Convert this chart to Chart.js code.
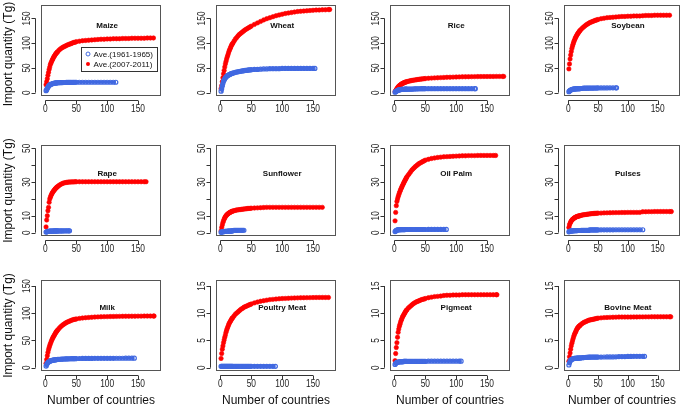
<!DOCTYPE html>
<html><head><meta charset="utf-8">
<script src="https://cdn.jsdelivr.net/npm/chart.js@4/dist/chart.umd.min.js"></script>
<style>
html,body{margin:0;padding:0;background:#fff;}
#wrap{position:relative;width:685px;height:410px;overflow:hidden;background:#fff;}
#wrap canvas{position:absolute;left:0;top:0;}
</style></head><body><div id="wrap"></div>
<script>
// ---------- DATA ----------
// Country counts at which values are listed (1..20, then every 2 to 50, then every 5)
const countryGrid = [1,2,3,4,5,6,7,8,9,10,11,12,13,14,15,16,17,18,19,20,
  22,24,26,28,30,32,34,36,38,40,42,44,46,48,50,
  55,60,65,70,75,80,85,90,95,100,105,110,115,120,125,130,135,140,145,150,155,160,165,170,175];

const panelNames = ['Maize','Wheat','Rice','Soybean','Rape','Sunflower','Oil Palm','Pulses','Milk','Poultry Meat','Pigmeat','Bovine Meat'];
const seriesLabels = ['Ave.(1961-1965)','Ave.(2007-2011)'];
const xAxisTitle = 'Number of countries';
const yAxisTitle = 'Import quantity (Tg)';

const xTicks = [0,50,100,150];
const yTicksRow1 = [0,50,100,150];
const yTicksRow2 = [0,10,20,30,40,50];
const yLabelsRow2 = ['0','10','','30','','50'];
const yTicksRow3 = [0,5,10,15];
const yTicksMilk = [0,50,100,150];

// last country count of each series
const earlyCounts  = [114,153,131, 81, 39, 38, 84,125,144, 89,108,128];
const recentCounts = [175,177,177,170,163,165,164,173,176,175,166,172];

// cumulative import quantity (Tg), 1961-1965 average
const maizeEarly = [4,6,9,11,13,14.5,15.5,16.5,17,17.5,18,18.5,18.8,19,19.3,19.5,19.7,19.8,19.9,20,
  20.1,20.2,20.3,20.4,20.5,20.5,20.6,20.7,20.7,20.8,20.8,20.9,20.9,21,21,
  21,21,21,21,21,21,21,21,21,21,21,21, 21];
const wheatEarly = [3,8,14,19,23,26,28,30,31.5,33,34,35,35.5,36,37,37.5,38,38.5,39,39.5,
  40,41,41.5,42,42.5,43,43.5,44,44.5,45,45,45.5,46,46,46.5,
  47,47,47.5,48,48,48.5,48.5,48.5,48.5,49,49,49,49,49,49,49,49,49,49,49, 49];
const riceEarly = [1,2,3,3.8,4.4,5,5.4,5.7,6,6.2,6.4,6.5,6.6,6.7,6.8,6.8,6.9,6.9,7,7,
  7,7.1,7.1,7.2,7.3,7.6,7.7,7.8,7.8,7.9,7.9,8,8,8,8,
  8,8,8,8,8,8,8,8,8,8,8,8,8,8,8,8, 8];
const soybeanEarly = [2,3.5,4.5,5.2,5.8,6.3,6.7,7,7.2,7.4,7.5,7.7,7.8,7.9,8,8,8.1,8.1,8.2,8.2,
  8.4,8.8,9,9,9.1,9.1,9.2,9.2,9.3,9.3,9.3,9.4,9.4,9.4,9.5,
  9.5,9.6,9.6,9.7,9.7,9.8, 9.8];
const rapeEarly = [0.3,0.5,0.6,0.7,0.8,0.8,0.85,0.85,0.9,0.9,0.9,0.95,0.95,1,1,1,1,1,1,1,
  1,1,1,1,1.05,1.05,1.1,1.1,1.1, 1.1];
const sunflowerEarly = [0.2,0.4,0.5,0.55,0.6,0.65,0.7,0.7,0.75,0.8,0.8,0.85,0.85,0.9,0.9,0.9,0.95,1,1,1.2,
  1.3,1.3,1.35,1.35,1.4,1.4,1.4,1.4, 1.4];
const oilPalmEarly = [0.6,1,1.3,1.5,1.6,1.7,1.7,1.75,1.75,1.8,1.8,1.8,1.8,1.8,1.8,1.8,1.8,1.85,1.85,1.85,
  1.85,1.85,1.85,1.85,1.85,1.85,1.85,1.85,1.85,1.85,1.85,1.85,1.85,1.85,1.85,
  1.9,1.9,1.9,1.9,1.9,1.9, 1.9];
const pulsesEarly = [0.5,0.7,0.8,0.9,1,1.05,1.1,1.1,1.15,1.15,1.2,1.2,1.2,1.2,1.2,1.25,1.25,1.25,1.25,1.25,
  1.3,1.3,1.3,1.3,1.3,1.3,1.3,1.6,1.6,1.6,1.6,1.6,1.6,1.6,1.6,
  1.65,1.65,1.65,1.65,1.65,1.7,1.7,1.7,1.7,1.7,1.7,1.7,1.7,1.7, 1.7];
const milkEarly = [3,6,8,9.5,10.5,11.3,12,12.5,13,13.3,13.6,13.8,14,14.2,14.4,14.6,14.8,15,15.1,15.2,
  15.4,15.6,15.7,15.8,16,16.1,16.2,16.3,16.4,16.5,16.6,16.6,16.7,16.7,16.8,
  16.9,17,17,17,17.1,17.2,17.2,17.2,17.3,17.3,17.3,17.3,17.4,17.4,17.4,17.5,17.5,17.5, 17.5];
const poultryEarly = [0.25,0.25,0.25,0.25,0.25,0.25,0.25,0.25,0.25,0.25,0.25,0.25,0.25,0.25,0.25,0.25,0.25,0.25,0.25,0.25,
  0.25,0.25,0.25,0.25,0.25,0.25,0.25,0.25,0.25,0.25,0.25,0.25,0.25,0.25,0.25,
  0.25,0.25,0.25,0.25,0.25,0.25,0.25, 0.25];
const pigmeatEarly = [0.6,0.8,0.9,1,1,1.05,1.05,1.1,1.1,1.1,1.1,1.1,1.1,1.1,1.15,1.15,1.15,1.15,1.15,1.15,
  1.15,1.15,1.15,1.15,1.15,1.15,1.15,1.15,1.15,1.15,1.15,1.15,1.15,1.15,1.15,
  1.2,1.2,1.2,1.2,1.2,1.2,1.2,1.2,1.2,1.2,1.2, 1.2];
const bovineEarly = [0.5,0.9,1.2,1.4,1.5,1.55,1.6,1.65,1.68,1.7,1.72,1.73,1.74,1.75,1.75,1.76,1.77,1.78,1.79,1.8,
  1.82,1.84,1.86,1.88,1.9,1.92,1.93,1.94,1.95,1.95,1.95,1.95,1.95,1.95,1.95,
  1.96,1.97,1.98,1.98,1.99,2,2.05,2.05,2.05,2.08,2.08,2.1,2.1,2.1,2.1, 2.1];

// cumulative import quantity (Tg), 2007-2011 average
const maizeRecent = [16,22,28,35,41,47,52,57,60,63,66,68,71,73,75,77,79,80,82,83,
  86,88,90,91.5,93,94,95.5,96.5,97.5,98.5,99.5,100.5,101.5,102,103,
  104,105,105.5,106,106.5,107,107.5,108,108,108.5,108.5,109,109,109,109.5,109.5,109.5,110,110,110,110,110,110.5,110.5, 110.5];
const wheatRecent = [8,14,22,30,38,45,52,58,63,68,72,76,80,84,87,90,93,96,98,100,
  104,108,111,114,117,119,121,123,125,127,128.5,130,131.5,133,134.5,
  138,141,144,147,149.5,151.5,153.5,155.5,157,158.5,160,161,162,163,164,164.5,165,165.5,166,166.5,167,167,167.5,167.5,168, 168];
const riceRecent = [2,4,6,8,10,11.5,13,14,15,16,17,17.8,18.5,19.2,19.8,20.3,20.8,21.3,21.7,22.1,
  22.8,23.4,24,24.5,25,25.4,25.8,26.2,26.6,27,27.3,27.6,27.9,28.2,28.5,
  29,29.4,29.8,30.1,30.4,30.7,31,31.2,31.4,31.6,31.8,32,32.1,32.2,32.3,32.4,32.5,32.5,32.6,32.6,32.7,32.7,32.8,32.8,32.8, 32.8];
const soybeanRecent = [48,58,68,76,83,89,94,98,102,105,108,111,113,115.5,117.5,119.5,121,123,124.5,126,
  128.5,131,133,135,137,138.5,140,141.5,142.5,143.5,144.5,145.5,146.5,147,148,
  149.5,150.5,151.5,152,152.5,153,153.5,154,154,154.5,154.5,155,155,155,155.5,156,156,156,156.5,156.5,156.5,156.5,156.5, 156.5];
const rapeRecent = [3.4,7.5,10,13,15,18,20,21,22,22.8,23.5,24.1,24.6,25.1,25.6,26,26.4,26.8,27.1,27.4,
  28,28.5,28.9,29.2,29.5,29.7,29.8,29.9,30,30,30.1,30.1,30.1,30.2,30.2,
  30.2,30.2,30.2,30.2,30.2,30.2,30.2,30.2,30.2,30.2,30.2,30.2,30.2,30.2,30.2,30.2,30.2,30.2,30.2,30.2,30.2,30.2, 30.2];
const sunflowerRecent = [1,3,4.5,6,7,8,8.8,9.4,10,10.4,10.8,11.1,11.4,11.7,11.9,12.1,12.3,12.5,12.6,12.8,
  13,13.2,13.4,13.5,13.6,13.7,13.8,13.9,14,14.1,14.2,14.3,14.35,14.4,14.5,
  14.6,14.7,14.8,14.9,15,15,15,15,15,15,15,15,15,15,15,15,15,15,15,15,15,15, 15];
const oilPalmRecent = [7,12,16,18.5,20,21.3,22.5,23.5,24.5,25.5,26.3,27.1,27.9,28.7,29.5,30.2,30.9,31.6,32.3,33,
  34,35,36,37,37.8,38.5,39.2,39.8,40.4,41,41.4,41.8,42.2,42.6,43,
  43.5,44,44.3,44.6,44.8,45,45.1,45.2,45.3,45.4,45.5,45.6,45.6,45.7,45.7,45.7,45.8,45.8,45.8,45.8,45.8,45.8, 45.8];
const pulsesRecent = [3,4.5,5.5,6.3,6.9,7.4,7.8,8.1,8.4,8.7,8.9,9.1,9.3,9.5,9.6,9.7,9.8,9.9,10,10.1,
  10.3,10.5,10.6,10.7,10.8,10.9,11,11.1,11.2,11.3,11.35,11.4,11.45,11.5,11.55,
  11.6,11.7,11.75,11.8,11.85,11.9,11.9,11.95,11.95,12,12,12,12,12,12.4,12.4,12.45,12.45,12.5,12.5,12.5,12.5,12.5,12.5, 12.5];
const milkRecent = [8,15,22,28,33,37,41,44,47,50,52.5,55,57,59,61,63,65,66.5,68,69.5,
  72,74.5,76.5,78.5,80,81.5,83,84,85,86,87,87.8,88.5,89,89.5,
  90.5,91.2,91.8,92.2,92.6,93,93.3,93.5,93.7,93.8,94,94.1,94.2,94.3,94.4,94.5,94.5,94.6,94.6,94.7,94.7,94.8,94.8,94.8,94.8, 94.8];
const poultryRecent = [1.7,2.6,3.4,4,4.6,5.1,5.6,6,6.5,6.9,7.2,7.5,7.8,8.1,8.3,8.5,8.7,8.9,9.1,9.2,
  9.5,9.8,10,10.2,10.4,10.6,10.8,10.9,11.1,11.2,11.3,11.4,11.5,11.6,11.7,
  11.9,12.05,12.2,12.3,12.4,12.5,12.55,12.6,12.65,12.7,12.72,12.75,12.78,12.8,12.82,12.84,12.85,12.86,12.87,12.88,12.89,12.9,12.9,12.9, 12.9];
const pigmeatRecent = [1.3,2.6,3.7,4.6,5.6,6.5,7.1,7.6,8,8.4,8.7,9,9.3,9.5,9.7,9.9,10.1,10.3,10.5,10.6,
  10.9,11.1,11.3,11.5,11.7,11.85,12,12.1,12.2,12.3,12.4,12.5,12.55,12.6,12.7,
  12.85,12.95,13.05,13.1,13.15,13.25,13.3,13.3,13.35,13.35,13.35,13.4,13.4,13.4,13.4,13.4,13.4,13.4,13.4,13.4,13.4,13.4,13.4, 13.4];
const bovineRecent = [1.2,2,2.7,3.4,4,4.5,4.9,5.3,5.7,6,6.3,6.5,6.75,7,7.2,7.35,7.5,7.6,7.7,7.8,
  8,8.15,8.3,8.4,8.5,8.6,8.7,8.75,8.8,8.85,8.9,8.95,9,9.05,9.1,
  9.15,9.2,9.22,9.25,9.27,9.28,9.3,9.3,9.3,9.3,9.3,9.32,9.32,9.33,9.33,9.34,9.34,9.35,9.35,9.35,9.35,9.35,9.35,9.35, 9.35];

const earlySeries  = [maizeEarly,wheatEarly,riceEarly,soybeanEarly,rapeEarly,sunflowerEarly,oilPalmEarly,pulsesEarly,milkEarly,poultryEarly,pigmeatEarly,bovineEarly];
const recentSeries = [maizeRecent,wheatRecent,riceRecent,soybeanRecent,rapeRecent,sunflowerRecent,oilPalmRecent,pulsesRecent,milkRecent,poultryRecent,pigmeatRecent,bovineRecent];

// ---------- LAYOUT / STYLE ----------
const W = 685, H = 410;
const colLeft = [41, 216, 390, 564];
const boxW = 120;
const rowTop = [5, 145, 280];
const boxH = 91;
const xRange = [-7.2, 187.2];
const rowYRange = [[-6.8, 176.8], [-2, 52], [-0.6, 16.1]];
const milkYRange = [-6, 161];
const BLUE = '#4169e1', RED = '#ff0000';
const TICK_FONT = '10px "Liberation Sans", Arial, sans-serif';
const TICK_SQUEEZE = 0.84;
const TITLE_FONT = 'bold 8px "Liberation Sans", Arial, sans-serif';
const AXIS_FONT = '12px "Liberation Sans", Arial, sans-serif';
const LEGEND_FONT = '8px "Liberation Sans", Arial, sans-serif';

function toPoints(vals, n) {
  const pts = [];
  for (let i = 0; i < vals.length; i++) {
    const last = i === vals.length - 1;
    const x = last ? n : countryGrid[i];
    if (!last && x >= n) continue;
    pts.push({x: x, y: vals[i]});
  }
  return pts;
}

function squeezedText(ctx, text, x, y, rot) {
  ctx.save();
  ctx.translate(x, y);
  if (rot) ctx.rotate(rot);
  ctx.scale(TICK_SQUEEZE, 1);
  ctx.fillText(text, 0, 0);
  ctx.restore();
}

const framePlugin = {
  id: 'rframe',
  beforeDatasetsDraw(chart, args, opts) {
    const ctx = chart.ctx, a = chart.chartArea;
    const xs = chart.scales.x, ys = chart.scales.y;
    ctx.save();
    // box
    ctx.strokeStyle = '#555';
    ctx.lineWidth = 1;
    ctx.strokeRect(Math.round(a.left) + 0.5, Math.round(a.top) + 0.5, Math.round(a.right - a.left) - 1, Math.round(a.bottom - a.top) - 1);
    // x axis
    ctx.strokeStyle = '#333';
    const ay = Math.round(a.bottom + 4) + 0.5;
    ctx.beginPath();
    ctx.moveTo(xs.getPixelForValue(opts.xTicks[0]), ay);
    ctx.lineTo(xs.getPixelForValue(opts.xTicks[opts.xTicks.length - 1]), ay);
    opts.xTicks.forEach(t => { const px = Math.round(xs.getPixelForValue(t)) + 0.5; ctx.moveTo(px, ay); ctx.lineTo(px, ay + 4); });
    ctx.stroke();
    ctx.fillStyle = '#222';
    ctx.font = TICK_FONT;
    ctx.textAlign = 'center';
    ctx.textBaseline = 'middle';
    opts.xTicks.forEach(t => squeezedText(ctx, String(t), xs.getPixelForValue(t), a.bottom + 13, 0));
    // y axis
    const ax = Math.round(a.left - 6) + 0.5;
    ctx.beginPath();
    ctx.moveTo(ax, ys.getPixelForValue(opts.yTicks[0]));
    ctx.lineTo(ax, ys.getPixelForValue(opts.yTicks[opts.yTicks.length - 1]));
    opts.yTicks.forEach(t => { const py = Math.round(ys.getPixelForValue(t)) + 0.5; ctx.moveTo(ax, py); ctx.lineTo(ax - 4, py); });
    ctx.stroke();
    opts.yTicks.forEach((t, k) => {
      const lab = opts.yLabels ? opts.yLabels[k] : String(t);
      if (!lab) return;
      squeezedText(ctx, lab, a.left - 14, ys.getPixelForValue(t), -Math.PI / 2);
    });
    // panel title
    ctx.font = TITLE_FONT;
    ctx.fillStyle = '#111';
    ctx.fillText(opts.title, xs.getPixelForValue(100), ys.getPixelForValue(opts.titleY));
    // axis titles
    ctx.font = AXIS_FONT;
    ctx.fillStyle = '#111';
    if (opts.showYTitle) {
      ctx.save();
      ctx.translate(8.5, Math.max((a.top + a.bottom) / 2, 54));
      ctx.rotate(-Math.PI / 2);
      ctx.fillText(yAxisTitle, 0, 0);
      ctx.restore();
    }
    if (opts.showXTitle) {
      ctx.fillText(xAxisTitle, (a.left + a.right) / 2, 401);
    }
    ctx.restore();
  },
  afterDatasetsDraw(chart, args, opts) {
    if (!opts.legend) return;
    const ctx = chart.ctx;
    const xs = chart.scales.x, ys = chart.scales.y;
    const lx = Math.round(xs.getPixelForValue(58)) + 0.5;
    const ly = Math.round(ys.getPixelForValue(92.5)) + 0.5;
    const lw = 76, lh = 24;
    ctx.save();
    ctx.fillStyle = '#fff';
    ctx.fillRect(lx, ly, lw, lh);
    ctx.strokeStyle = '#333';
    ctx.lineWidth = 1;
    ctx.strokeRect(lx, ly, lw, lh);
    const ds = chart.data.datasets;
    ctx.font = LEGEND_FONT;
    ctx.textAlign = 'left';
    ctx.textBaseline = 'middle';
    ctx.fillStyle = '#111';
    [0, 1].forEach(k => {
      const cy = ly + 6.5 + k * 10;
      ctx.beginPath();
      ctx.arc(lx + 6.5, cy, 2, 0, Math.PI * 2);
      if (k === 0) { ctx.strokeStyle = BLUE; ctx.lineWidth = 1; ctx.stroke(); }
      else { ctx.fillStyle = RED; ctx.fill(); }
      ctx.fillStyle = '#111';
      ctx.fillText(ds[k].label, lx + 12, cy + 0.5);
    });
    ctx.restore();
  }
};

const wrap = document.getElementById('wrap');
const titleYByRow = [135, 35, 11];

panelNames.forEach((name, i) => {
  const r = Math.floor(i / 4), c = i % 4;
  const cv = document.createElement('canvas');
  cv.width = W; cv.height = H;
  cv.style.width = W + 'px'; cv.style.height = H + 'px';
  wrap.appendChild(cv);
  const isMilk = name === 'Milk';
  const yr = isMilk ? milkYRange : rowYRange[r];
  const yTicks = r === 0 ? yTicksRow1 : (r === 1 ? yTicksRow2 : (isMilk ? yTicksMilk : yTicksRow3));
  const L = colLeft[c], T = rowTop[r];
  new Chart(cv, {
    type: 'scatter',
    data: {
      datasets: [
        { label: seriesLabels[0], data: toPoints(earlySeries[i], earlyCounts[i]),
          pointStyle: 'circle', pointRadius: 2, pointBorderWidth: 1.2,
          pointBorderColor: BLUE, pointBackgroundColor: 'rgba(0,0,0,0)',
          showLine: true, borderColor: BLUE, borderWidth: 3.2, tension: 0 },
        { label: seriesLabels[1], data: toPoints(recentSeries[i], recentCounts[i]),
          pointStyle: 'circle', pointRadius: 2.2, pointBorderWidth: 0.6,
          pointBorderColor: RED, pointBackgroundColor: RED, showLine: false }
      ]
    },
    options: {
      responsive: false, animation: false, devicePixelRatio: 1, events: [],
      layout: { padding: { left: L, top: T, right: W - L - boxW, bottom: H - T - boxH } },
      scales: {
        x: { type: 'linear', min: xRange[0], max: xRange[1], display: false },
        y: { type: 'linear', min: yr[0], max: yr[1], display: false }
      },
      plugins: {
        legend: { display: false }, tooltip: { enabled: false },
        rframe: {
          title: name,
          titleY: isMilk ? 110 : titleYByRow[r],
          xTicks: xTicks, yTicks: yTicks,
          yLabels: r === 1 ? yLabelsRow2 : null,
          showYTitle: c === 0, showXTitle: r === 2,
          legend: i === 0
        }
      }
    },
    plugins: [framePlugin]
  });
});
</script>
</body></html>
